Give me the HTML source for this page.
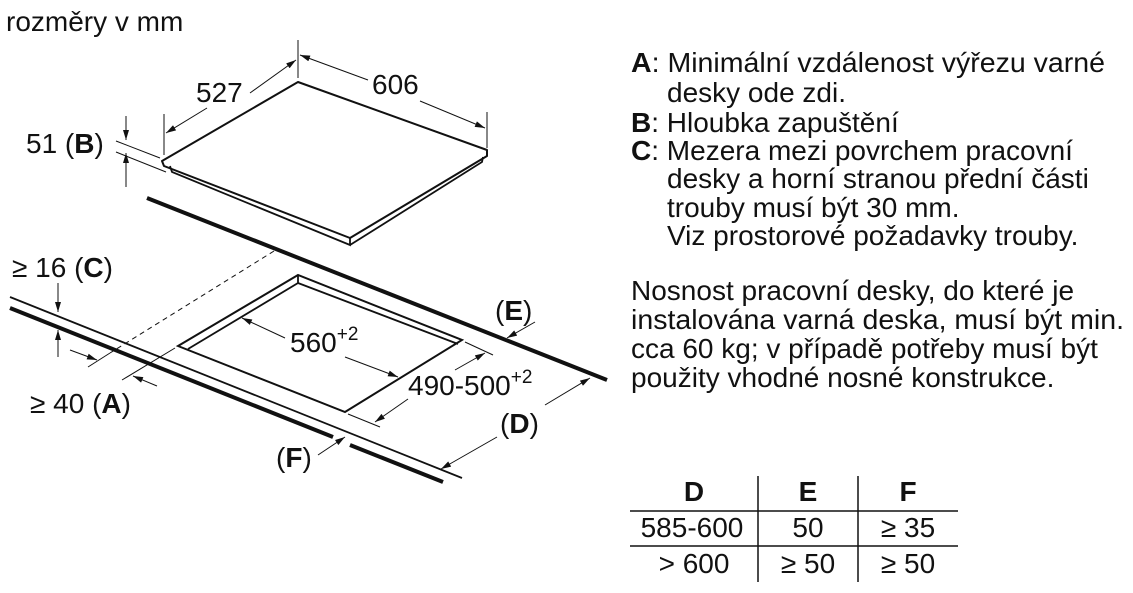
<!DOCTYPE html>
<html><head><meta charset="utf-8"><style>
html,body{margin:0;padding:0;background:#fff}
svg{display:block}
text{font-family:"Liberation Sans",sans-serif;fill:#111}
</style></head><body>
<svg width="1133" height="593" viewBox="0 0 1133 593" xmlns="http://www.w3.org/2000/svg">
<defs>
<marker id="ar" viewBox="0 0 10 6" refX="10" refY="3" markerWidth="11" markerHeight="6" markerUnits="userSpaceOnUse" orient="auto"><path d="M0,0 L10,3 L0,6 z" fill="#111"/></marker>
</defs>
<text x="6" y="31" font-size="28">rozměry v mm</text>

<g stroke="#111" fill="none" stroke-width="1">
<path d="M162,161 L298,82 L487,150 L487,156 L350,238 L164,166 Z" stroke-width="2" fill="#fff" stroke-linejoin="round"/>
<path d="M170,166 L172,172 L350,245 L350,238 M350,245 L482,162 L483,157" stroke-width="1.8"/>
<line x1="298" y1="40" x2="298" y2="78"/>
<line x1="164" y1="114" x2="164" y2="155"/>
<line x1="487" y1="112" x2="487" y2="148"/>
<line x1="250" y1="93" x2="296" y2="60" marker-end="url(#ar)"/>
<line x1="207" y1="108" x2="166" y2="133" marker-end="url(#ar)"/>
<line x1="368" y1="80" x2="300" y2="55" marker-end="url(#ar)"/>
<line x1="420" y1="101" x2="485" y2="128" marker-end="url(#ar)"/>
<line x1="116" y1="141" x2="160" y2="158"/>
<line x1="116" y1="152" x2="166" y2="172"/>
<line x1="126" y1="116" x2="126" y2="140" marker-end="url(#ar)"/>
<line x1="126" y1="187" x2="126" y2="153" marker-end="url(#ar)"/>
<line x1="147" y1="198" x2="607" y2="380" stroke-width="4"/>
<line x1="10" y1="297" x2="462" y2="478" stroke-width="1.8"/>
<line x1="10" y1="308" x2="333" y2="437" stroke-width="4"/>
<line x1="350" y1="445" x2="443" y2="482" stroke-width="4"/>
<line x1="274" y1="251" x2="110" y2="353" stroke-dasharray="5,4"/>
<line x1="110" y1="353" x2="88" y2="367"/>
<line x1="122" y1="380" x2="175" y2="348"/>
<path d="M178,346 L298,275 L462,340 L345,412 Z" stroke-width="2" stroke-linejoin="miter"/>
<path d="M188,349 L298,283 L298,275 M298,283 L458,344" stroke-width="1.8"/>
<line x1="285" y1="338" x2="242" y2="318" marker-end="url(#ar)"/>
<line x1="345" y1="357" x2="398" y2="377" marker-end="url(#ar)"/>
<line x1="465" y1="342" x2="493" y2="355"/>
<line x1="348" y1="414" x2="380" y2="427"/>
<line x1="455" y1="370" x2="485" y2="353" marker-end="url(#ar)"/>
<line x1="408" y1="399" x2="375" y2="422" marker-end="url(#ar)"/>
<line x1="58" y1="283" x2="58" y2="312" marker-end="url(#ar)"/>
<line x1="58" y1="357" x2="58" y2="330" marker-end="url(#ar)"/>
<line x1="70" y1="350" x2="97" y2="360" marker-end="url(#ar)"/>
<line x1="157" y1="386" x2="133" y2="376" marker-end="url(#ar)"/>
<line x1="535" y1="322" x2="507" y2="338" marker-end="url(#ar)"/>
<line x1="545" y1="405" x2="590" y2="378" marker-end="url(#ar)"/>
<line x1="497" y1="437" x2="441" y2="469" marker-end="url(#ar)"/>
<line x1="318" y1="455" x2="345" y2="437" marker-end="url(#ar)"/>
</g>

<g font-size="28">
<text x="196" y="102">527</text>
<text x="372" y="94">606</text>
<text x="26" y="153">51 (<tspan font-weight="bold">B</tspan>)</text>
<text x="12" y="277">≥ 16 (<tspan font-weight="bold">C</tspan>)</text>
<text x="30" y="413">≥ 40 (<tspan font-weight="bold">A</tspan>)</text>
<text x="290" y="352">560<tspan font-size="19" dy="-12">+2</tspan></text>
<text x="408" y="395">490-500<tspan font-size="19" dy="-12">+2</tspan></text>
<text x="495" y="320">(<tspan font-weight="bold">E</tspan>)</text>
<text x="500" y="433">(<tspan font-weight="bold">D</tspan>)</text>
<text x="276" y="467">(<tspan font-weight="bold">F</tspan>)</text>
</g>

<g font-size="28">
<text x="631" y="72" textLength="474" lengthAdjust="spacingAndGlyphs"><tspan font-weight="bold">A</tspan>: Minimální vzdálenost výřezu varné</text>
<text x="667" y="102">desky ode zdi.</text>
<text x="631" y="132"><tspan font-weight="bold">B</tspan>: Hloubka zapuštění</text>
<text x="631" y="160"><tspan font-weight="bold">C</tspan>: Mezera mezi povrchem pracovní</text>
<text x="667" y="188">desky a horní stranou přední části</text>
<text x="667" y="217">trouby musí být 30 mm.</text>
<text x="667" y="245">Viz prostorové požadavky trouby.</text>
<text x="631" y="300">Nosnost pracovní desky, do které je</text>
<text x="631" y="329" textLength="493" lengthAdjust="spacingAndGlyphs">instalována varná deska, musí být min.</text>
<text x="631" y="358">cca 60 kg; v případě potřeby musí být</text>
<text x="631" y="387">použity vhodné nosné konstrukce.</text>
</g>

<g stroke="#111" stroke-width="1.5">
<line x1="630" y1="511" x2="958" y2="511"/>
<line x1="630" y1="546" x2="958" y2="546"/>
<line x1="758" y1="476" x2="758" y2="582"/>
<line x1="858" y1="476" x2="858" y2="582"/>
</g>
<g font-size="28" text-anchor="middle">
<text x="694" y="501" font-weight="bold">D</text>
<text x="808" y="501" font-weight="bold">E</text>
<text x="908" y="501" font-weight="bold">F</text>
<text x="692" y="537">585-600</text>
<text x="808" y="537">50</text>
<text x="908" y="537">≥ 35</text>
<text x="694" y="573">&gt; 600</text>
<text x="808" y="573">≥ 50</text>
<text x="908" y="573">≥ 50</text>
</g>
</svg>
</body></html>
